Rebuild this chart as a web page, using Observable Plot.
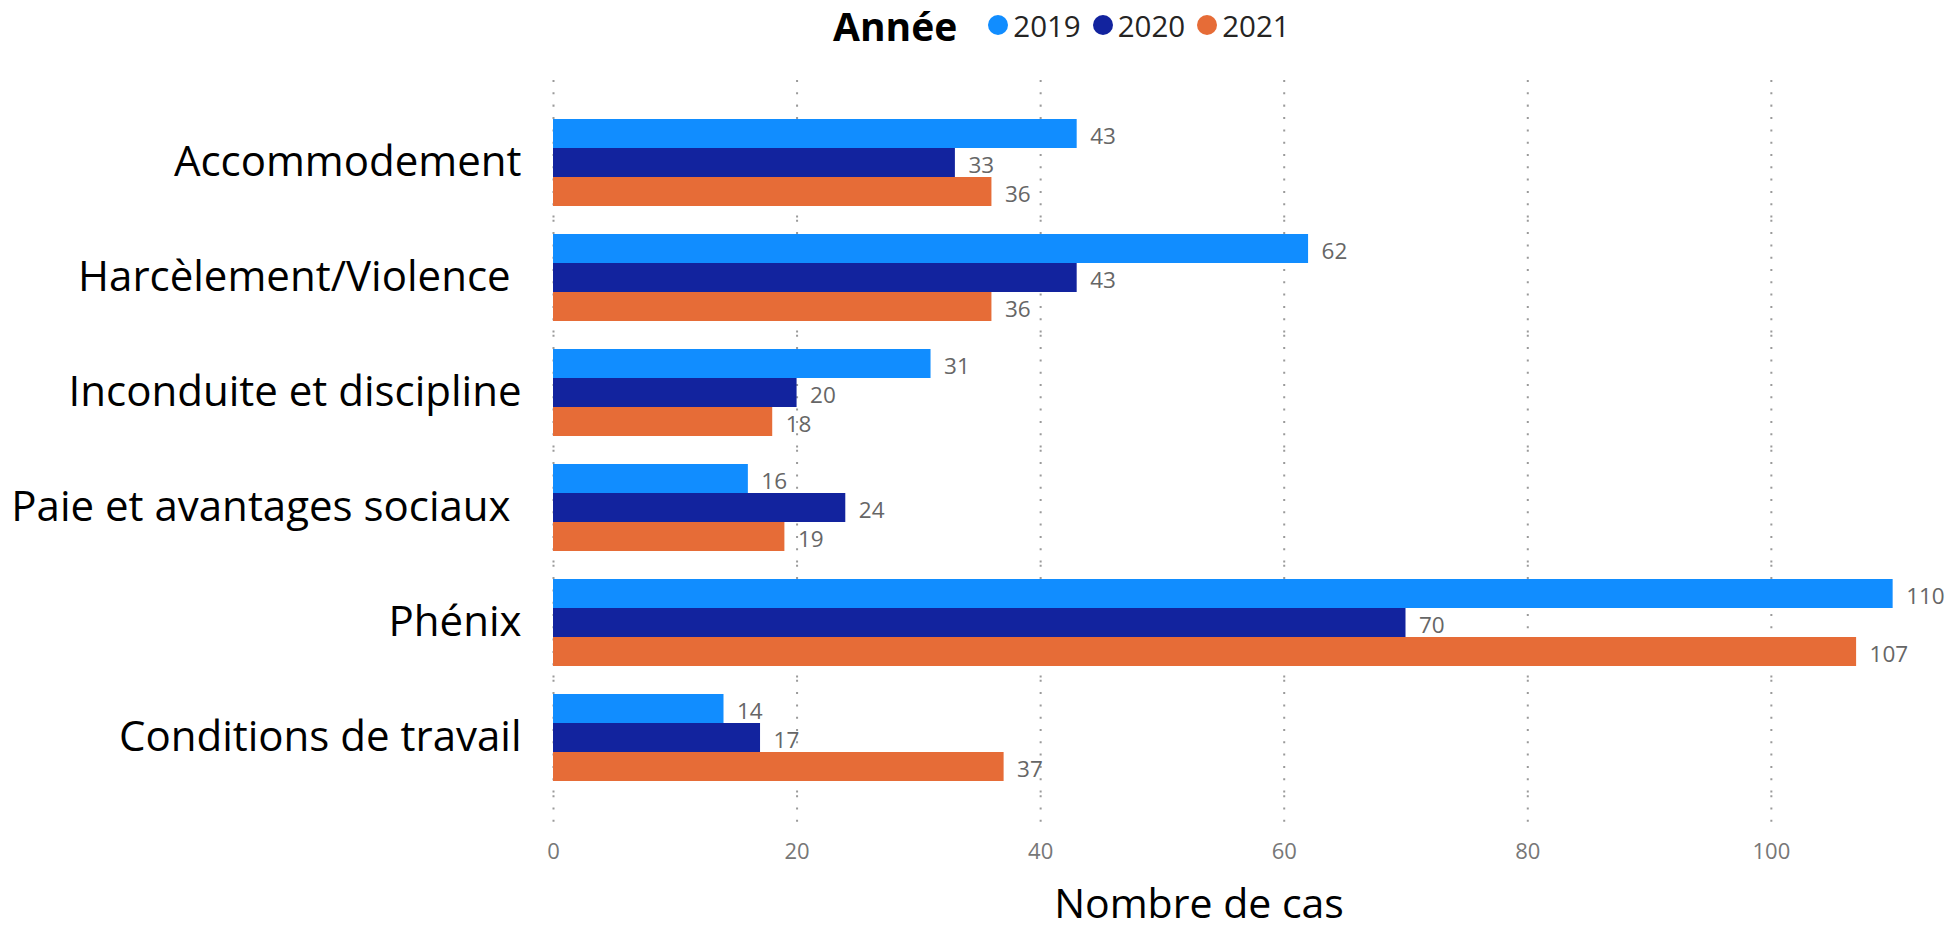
<!DOCTYPE html>
<html><head><meta charset="utf-8">
<script src="https://cdn.jsdelivr.net/npm/d3@7"></script>
<script src="https://cdn.jsdelivr.net/npm/@observablehq/plot@0.6"></script>
<style>
body{margin:0;background:#fff;font-family:"Open Sans",sans-serif;width:1956px;height:932px;position:relative;overflow:hidden}
#legend{position:relative;height:56px}
#legend .row{position:absolute;left:833px;top:0;height:50px;display:flex;align-items:center;white-space:nowrap}
#legend .title{font-weight:700;font-size:39px;color:#000;margin-right:31px}
#legend .item{display:flex;align-items:center;margin-right:12px;font-size:29.5px;color:#252423}
#legend .dot{width:20px;height:20px;border-radius:50%;margin-right:5px}
#xlabel{position:absolute;left:1199px;top:883px;transform:translateX(-50%);font-size:41px;line-height:38px;white-space:nowrap;color:#000}
</style></head><body>
<div id="legend"><div class="row"></div></div>
<div id="chart"></div>
<div id="xlabel">Nombre de cas</div>
<script>
const categories = ["Accommodement", "Harcèlement/Violence\u00A0", "Inconduite et discipline", "Paie et avantages sociaux\u00A0", "Phénix", "Conditions de travail"];
const years = ["2019", "2020", "2021"];
const colors = ["#118DFF", "#12239E", "#E66C37"];
const v2019 = [43, 62, 31, 16, 110, 14];
const v2020 = [33, 43, 20, 24, 70, 17];
const v2021 = [36, 36, 18, 19, 107, 37];
const xTicks = [0, 20, 40, 60, 80, 100];
const legendTitle = "Année";

const series = [v2019, v2020, v2021];
const data = categories.flatMap((c, i) => years.map((y, j) => ({category: c, year: y, value: series[j][i]})));

// legend
const row = d3.select("#legend .row");
row.append("span").attr("class", "title").text(legendTitle);
years.forEach((y, j) => {
  const it = row.append("span").attr("class", "item");
  it.append("span").attr("class", "dot").style("background", colors[j]);
  it.append("span").text(y);
});

const bandH = 89;      // facet band height (px)
const halfGap = 13.2;  // half of the gap between facets (px)
const gridStyle = {stroke: "#9a9a9a", strokeWidth: 2, strokeDasharray: "2,10.3"};

const plot = Plot.plot({
  width: 1956, height: 820,
  marginLeft: 553, marginRight: 39, marginTop: 61, marginBottom: 93,
  style: {fontFamily: '"Open Sans", sans-serif', background: "#fff"},
  x: {domain: [0, 112]},
  y: {domain: years, padding: 0, axis: null},
  fy: {domain: categories, paddingInner: 0.229, paddingOuter: 0},
  color: {domain: years, range: colors},
  marks: [
    Plot.ruleX(xTicks, {...gridStyle, insetTop: -halfGap, insetBottom: -halfGap}),
    Plot.ruleX(xTicks, {...gridStyle, fy: () => categories[0], insetTop: -38, insetBottom: bandH + halfGap}),
    Plot.ruleX(xTicks, {...gridStyle, fy: () => categories[categories.length - 1], insetTop: bandH + halfGap, insetBottom: -46}),
    Plot.barX(data, {fy: "category", y: "year", x: "value", fill: "year"}),
    Plot.text(data, {fy: "category", y: "year", x: "value", text: d => String(d.value), textAnchor: "start", dx: 13, dy: 3, fill: "#666", fontSize: 22.5}),
    Plot.axisX({ticks: xTicks, tickSize: 0, tickPadding: 61, fontSize: 22, color: "#777", label: null}),
    Plot.axisFy({anchor: "left", tickSize: 0, tickPadding: 32, fontSize: 42, color: "#000", label: null})
  ]
});
document.getElementById("chart").appendChild(plot);
</script>
</body></html>
